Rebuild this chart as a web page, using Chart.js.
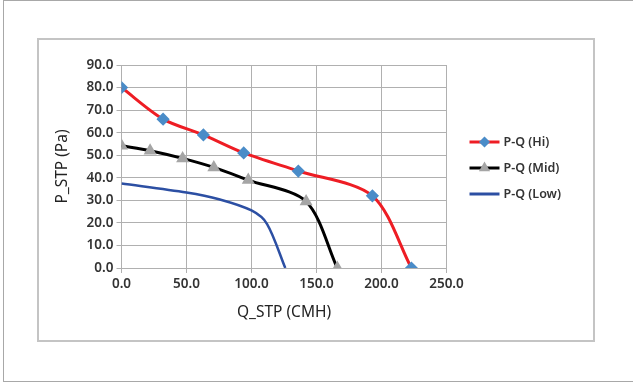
<!DOCTYPE html>
<html lang="en">
<head>
<meta charset="UTF-8">
<style>
    body { margin: 0; background: #fff; width: 633px; height: 383px; overflow: hidden; position: relative; }
    #frame { position: absolute; left: 3px; top: 0; width: 640px; height: 380px; border: 1px solid #a8a8a8; border-right: none; }
    #box { position: absolute; left: 37px; top: 38px; width: 554px; height: 300px; border: 2px solid #c4c4c4; background: #fff; }
    #box canvas { position: absolute; left: 0; top: 0; }
</style>
</head>
<body>
<div id="frame"></div>
<div id="box"><canvas id="pqChart" width="554" height="300"></canvas></div>

<script src="https://cdn.jsdelivr.net/npm/chart.js"></script>
<script>
    // values
    const hiQ  = [0, 32, 63, 94, 136, 193, 223];
    const hiP  = [80, 66, 59, 51, 43, 32, 0];
    const midQ = [0, 22, 47, 71, 97.5, 142, 166];
    const midP = [54.2, 52, 48.6, 44.6, 39, 29.5, 0];
    const lowQ = [0, 50, 75, 100, 112, 126];
    const lowP = [37.5, 33.5, 30.5, 25.5, 19.5, 0];
    const seriesNames = ["P-Q (Hi)", "P-Q (Mid)", "P-Q (Low)"];

    const pts = (xs, ys) => xs.map((x, i) => ({ x: x, y: ys[i] }));

    const tickFont = { family: "Noto Sans", size: 13.5, weight: "600" };

    // legend drawn as line with marker in the middle, Excel style
    const pqLegend = {
        id: "pqLegend",
        afterDraw(chart) {
            const ctx = chart.ctx;
            const area = chart.chartArea;
            const x0 = area.right + 23;
            chart.data.datasets.forEach((ds, i) => {
                const y = area.top + 77 + i * 26;
                ctx.save();
                ctx.strokeStyle = ds.borderColor;
                ctx.lineWidth = 3;
                ctx.beginPath();
                ctx.moveTo(x0, y);
                ctx.lineTo(x0 + 30, y);
                ctx.stroke();
                if (ds.pointRadius > 0) {
                    ctx.fillStyle = ds.pointBackgroundColor;
                    ctx.strokeStyle = ds.pointBorderColor;
                    Chart.helpers.drawPoint(ctx, { pointStyle: ds.pointStyle, radius: 3.5, rotation: 0, borderWidth: 1 }, x0 + 15, y);
                }
                ctx.fillStyle = "#333";
                ctx.font = "600 12.5px 'Noto Sans'";
                ctx.textBaseline = "middle";
                ctx.textAlign = "left";
                ctx.fillText(ds.label, x0 + 34, y);
                ctx.restore();
            });
        }
    };

    new Chart(document.getElementById("pqChart"), {
        type: "scatter",
        data: {
            datasets: [
                {
                    label: seriesNames[0],
                    data: pts(hiQ, hiP),
                    showLine: true,
                    borderColor: "#ee1d24",
                    borderWidth: 3,
                    tension: 0.3,
                    pointStyle: "rectRot",
                    pointRadius: 4.5,
                    pointBackgroundColor: "#4a8cc8",
                    pointBorderColor: "#4a8cc8"
                },
                {
                    label: seriesNames[1],
                    data: pts(midQ, midP),
                    showLine: true,
                    borderColor: "#000000",
                    borderWidth: 3,
                    tension: 0.3,
                    pointStyle: "triangle",
                    pointRadius: 4.5,
                    pointBackgroundColor: "#a5a5a5",
                    pointBorderColor: "#a5a5a5"
                },
                {
                    label: seriesNames[2],
                    data: pts(lowQ, lowP),
                    showLine: true,
                    borderColor: "#2c4fa3",
                    borderWidth: 2.5,
                    tension: 0.3,
                    pointRadius: 0,
                    pointBackgroundColor: "#2c4fa3",
                    pointBorderColor: "#2c4fa3"
                }
            ]
        },
        options: {
            responsive: false,
            animation: false,
            layout: { padding: { top: 25, right: 146.5, left: 0, bottom: 0 } },
            plugins: {
                legend: { display: false },
                tooltip: { enabled: false }
            },
            scales: {
                x: {
                    min: 0,
                    max: 250,
                    afterFit: (s) => { s.height = 72; },
                    border: { color: "#b0b0b0" },
                    grid: { color: "#b0b0b0", tickLength: 5 },
                    ticks: {
                        stepSize: 50,
                        padding: 3,
                        color: "#333",
                        font: tickFont,
                        callback: (v) => v.toFixed(1)
                    },
                    title: {
                        display: true,
                        text: "Q_STP (CMH)",
                        color: "#222",
                        font: { family: "Noto Sans", size: 15.5 },
                        padding: { top: 0, bottom: 18 }
                    }
                },
                y: {
                    min: 0,
                    max: 90,
                    afterFit: (s) => { s.width = 82.5; },
                    border: { color: "#b0b0b0" },
                    grid: { color: "#b0b0b0", tickLength: 5 },
                    ticks: {
                        stepSize: 10,
                        padding: 3,
                        color: "#333",
                        font: tickFont,
                        callback: (v) => v.toFixed(1)
                    },
                    title: {
                        display: true,
                        text: "P_STP (Pa)",
                        color: "#222",
                        font: { family: "Noto Sans", size: 15.5 },
                        padding: { top: 14, bottom: 0 }
                    }
                }
            }
        },
        plugins: [pqLegend]
    });
</script>
</body>
</html>
